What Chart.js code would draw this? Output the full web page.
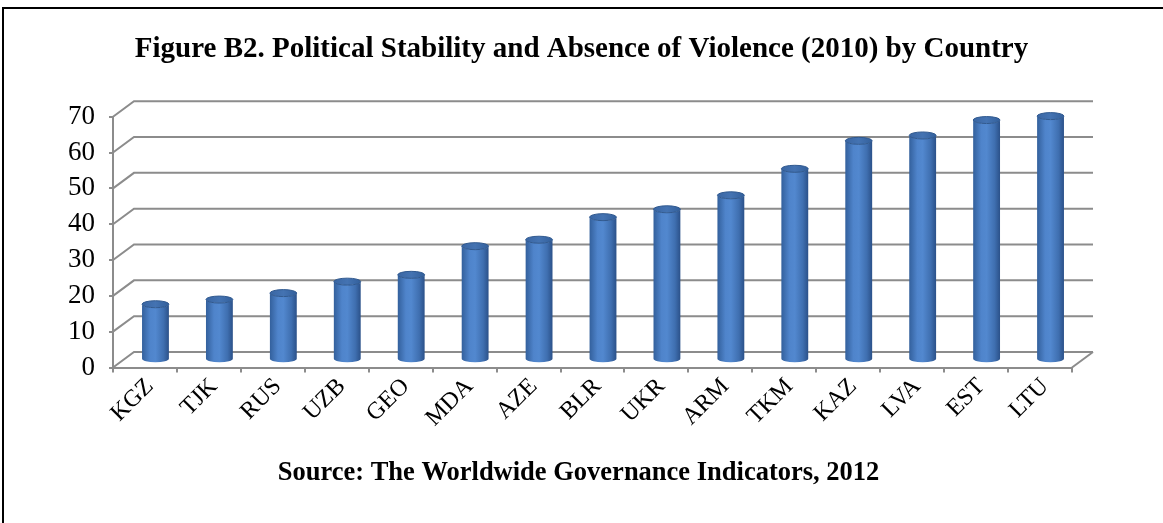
<!DOCTYPE html>
<html lang="en">
<head>
<meta charset="UTF-8" />
<title>Political Stability and Absence of Violence (2010)</title>
<style>
  html, body { margin: 0; padding: 0; background: #fff; }
  #wrap { position: relative; width: 1163px; height: 523px; overflow: hidden; }
  #frame { position: absolute; left: 2px; top: 7px; right: -4px; bottom: -4px;
           border-left: 2px solid #000; border-top: 2px solid #000; pointer-events: none; }
</style>
</head>
<body>
<div id="wrap">
  <canvas id="myChart" width="1163" height="523"></canvas>
  <div id="frame"></div>
</div>
<script src="https://cdn.jsdelivr.net/npm/chart.js"></script>
<script>
var countries = ["KGZ", "TJK", "RUS", "UZB", "GEO", "MDA", "AZE", "BLR", "UKR", "ARM", "TKM", "KAZ", "LVA", "EST", "LTU"];
var stability = [15.5, 16.8, 18.6, 21.8, 23.7, 31.7, 33.5, 39.8, 42.0, 45.9, 53.3, 61.1, 62.6, 66.9, 68.0];
var yMin = 0, yMax = 70, yStep = 10;

var titleText = "Figure B2. Political Stability and Absence of Violence (2010) by Country";
var sourceText = "Source: The Worldwide Governance Indicators, 2012";

// depth of the back wall relative to the front axis
var depthX = 21, depthY = -15.5;
var gridColor = "#8c8c8c";
var serif = "'Liberation Serif', 'Times New Roman', serif";

Chart.defaults.color = "#000";
Chart.defaults.font.family = serif;

// title and source line, centred on the whole canvas
const captions = {
  id: "captions",
  afterDraw(chart) {
    const ctx = chart.ctx;
    ctx.save();
    ctx.fillStyle = "#000";
    ctx.textAlign = "center";
    ctx.textBaseline = "middle";
    ctx.font = "bold 29px " + serif;
    ctx.fillText(titleText, 581.5, 50);
    ctx.font = "bold 26.5px " + serif;
    ctx.fillText(sourceText, 578.5, 473);
    ctx.restore();
  },
};

const wall3d = {
  id: "wall3d",
  beforeDatasetsDraw(chart) {
    const ctx = chart.ctx, a = chart.chartArea, y = chart.scales.y;
    ctx.save();
    ctx.strokeStyle = gridColor;
    ctx.lineWidth = 2;
    y.ticks.forEach((t) => {
      const py = y.getPixelForValue(t.value);
      ctx.beginPath();
      ctx.moveTo(a.left, py);
      ctx.lineTo(a.left + depthX, py + depthY);
      ctx.lineTo(a.right + depthX, py + depthY);
      ctx.stroke();
    });
    // right edge of the floor
    ctx.beginPath();
    ctx.moveTo(a.right, a.bottom);
    ctx.lineTo(a.right + depthX, a.bottom + depthY);
    ctx.stroke();
    ctx.restore();
  },
  afterDatasetsDraw(chart) {
    const ctx = chart.ctx;
    const meta = chart.getDatasetMeta(0);
    ctx.save();
    meta.data.forEach((bar) => {
      const p = bar.getProps(["x", "y", "base", "width"], true);
      // cylinders sit half way into the depth
      const cx = p.x + depthX / 2;
      const top = p.y + depthY / 2;
      const bot = p.base + depthY / 2;
      const r = p.width / 2, ry = 3.5;

      const g = ctx.createLinearGradient(cx - r, 0, cx + r, 0);
      g.addColorStop(0, "#33609c");
      g.addColorStop(0.3, "#4f84cb");
      g.addColorStop(0.5, "#5288cf");
      g.addColorStop(0.8, "#3f6fb0");
      g.addColorStop(1, "#2b5189");
      ctx.fillStyle = g;
      ctx.beginPath();
      ctx.moveTo(cx - r, top);
      ctx.lineTo(cx - r, bot);
      ctx.ellipse(cx, bot, r, ry, 0, Math.PI, 0, true);
      ctx.lineTo(cx + r, top);
      ctx.ellipse(cx, top, r, ry, 0, 0, Math.PI, false);
      ctx.closePath();
      ctx.fill();

      const cg = ctx.createLinearGradient(cx - r, 0, cx + r, 0);
      cg.addColorStop(0, "#3a66a3");
      cg.addColorStop(0.5, "#4473b2");
      cg.addColorStop(1, "#33609c");
      ctx.fillStyle = cg;
      ctx.strokeStyle = "#30598f";
      ctx.lineWidth = 1;
      ctx.beginPath();
      ctx.ellipse(cx, top, r, ry, 0, 0, Math.PI * 2);
      ctx.fill();
      ctx.stroke();
    });
    ctx.restore();
  },
};

const config = {
  type: "bar",
  data: {
    labels: countries,
    datasets: [
      {
        label: "Political Stability",
        data: stability,
        backgroundColor: "rgba(0,0,0,0)",
        borderWidth: 0,
        barPercentage: 0.42,
        categoryPercentage: 1,
      },
    ],
  },
  options: {
    responsive: false,
    animation: false,
    layout: { padding: { left: 0, right: 91, top: 116.7, bottom: 75.5 } },
    plugins: {
      legend: { display: false },
      tooltip: { enabled: false },
      title: { display: false },
    },
    scales: {
      x: {
        grid: { drawOnChartArea: false, tickLength: 5, color: gridColor, lineWidth: 2 },
        border: { color: gridColor, width: 2 },
        ticks: { font: { size: 24 }, maxRotation: 45, minRotation: 45, autoSkip: false, padding: 0, labelOffset: 5 },
        afterFit: (s) => { s.height = 80; },
      },
      y: {
        min: yMin,
        max: yMax,
        grid: { drawOnChartArea: false, tickLength: 4, color: gridColor, lineWidth: 2 },
        border: { color: gridColor, width: 2 },
        ticks: { stepSize: yStep, font: { size: 27 }, padding: 14 },
        afterFit: (s) => { s.width = 113; },
      },
    },
  },
  plugins: [wall3d, captions],
};

var myChart = new Chart(document.getElementById("myChart"), config);
</script>
</body>
</html>
